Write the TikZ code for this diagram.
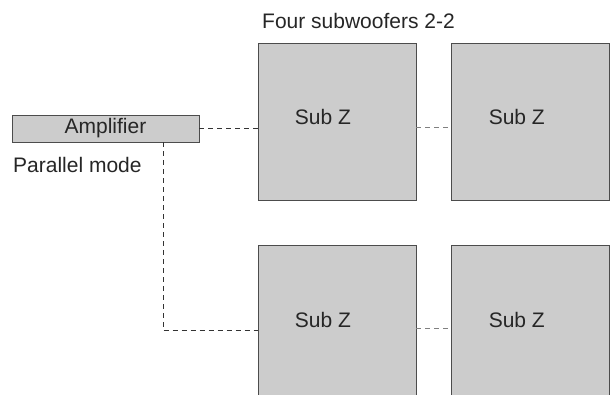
\documentclass[tikz,border=0pt]{standalone}
\usepackage{fontspec}
\setmainfont{Liberation Sans}
\usetikzlibrary{positioning}

\begin{document}
\begin{tikzpicture}[x=1pt,y=1pt,
	box/.style={draw=black!70,fill=black!20,line width=0.8pt,inner sep=0pt},
	sub/.style={box,minimum width=158pt,minimum height=157pt},
	lbl/.style={font=\fontsize{21}{25}\selectfont,text=black!85,inner sep=0pt},
	wire/.style={line width=0.8pt,dash pattern=on 5pt off 4pt}]
	\useasboundingbox (0,0) rectangle (616,395);
	\clip (0,0) rectangle (616,395);
	% the four speakers
	\node[sub] (s1) at (337,273.5) {};
	\node[sub,right=35pt of s1] (s2) {};
	\node[sub,below=45pt of s1] (s3) {};
	\node[sub,right=35pt of s3] (s4) {};
	\foreach \s in {s1,s2,s3,s4}
		\node[lbl] (\s lbl) at ([shift={(-14,4.5)}]\s.center) {Sub Z};
	% amplifier
	\node[box,lbl,minimum width=187pt,minimum height=27pt] (amp) at (105.5,266.5) {Amplifier};
	\node[lbl,anchor=west] (mode) at (13,230) {Parallel mode};
	\node[lbl,anchor=west] (title) at (262,374) {Four subwoofers 2-2};
	% wiring
	\coordinate (tap) at ([xshift=57.5pt]amp.south);
	\coordinate (s3in) at ([yshift=-6.5pt]s3.west);
	\draw[wire,black!80] (amp.east) -- (amp.east -| s1.west);
	\draw[wire,black!80] (tap) |- (s3in);
	\draw[wire,gray] ([yshift=-5.5pt]s1.east) -- ([yshift=-5.5pt]s2.west);
	\draw[wire,gray] ([yshift=-4.5pt]s3.east) -- ([yshift=-4.5pt]s4.west);
\end{tikzpicture}
\end{document}
